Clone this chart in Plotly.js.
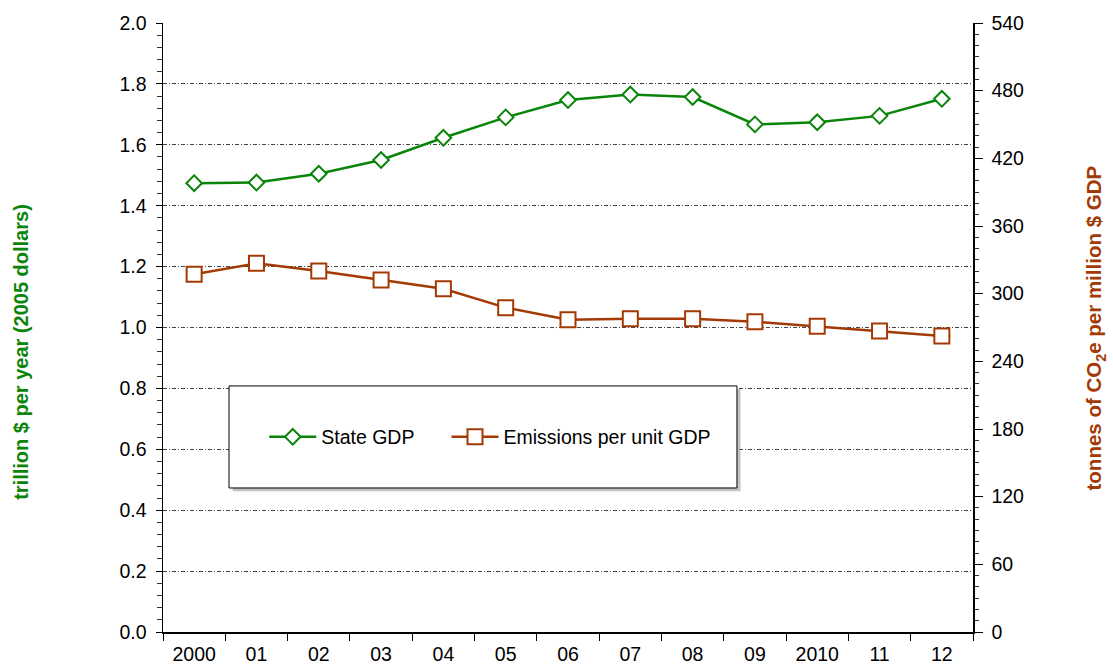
<!DOCTYPE html>
<html>
<head>
<meta charset="utf-8">
<script src="https://cdn.plot.ly/plotly-3.0.1.min.js"></script>
<style>html,body{margin:0;padding:0;background:#fff;}#chart{width:1113px;height:667px;}</style>
</head>
<body>
<div id="chart"></div>
<script>
const years = ['2000','01','02','03','04','05','06','07','08','09','2010','11','12'];
const stateGDP = [1.474, 1.476, 1.505, 1.550, 1.623, 1.690, 1.747, 1.765, 1.757, 1.667, 1.674, 1.695, 1.751];
const emissionsPerGDP = [317.2, 326.9, 320.1, 312.1, 304.4, 287.6, 276.9, 277.8, 277.8, 275.1, 271.1, 266.9, 262.5];
const seriesNames = ['State GDP', 'Emissions per unit GDP'];
const leftTitle = 'trillion $ per year (2005 dollars)';
const rightTitle = 'tonnes of CO<sub>2</sub>e per million $ GDP';

const green = '#0A850A';
const brown = '#A33A06';
const font = 'Liberation Sans, Arial, sans-serif';

const traces = [
  {
    x: years, y: stateGDP, name: seriesNames[0], type: 'scatter', mode: 'lines+markers',
    line: {color: green, width: 2.5},
    marker: {symbol: 'diamond', size: 12, color: '#ffffff', line: {color: green, width: 2}},
    legend: 'legend', cliponaxis: false
  },
  {
    x: years, y: emissionsPerGDP, name: seriesNames[1], type: 'scatter', mode: 'lines+markers',
    yaxis: 'y2',
    line: {color: brown, width: 2.5},
    marker: {symbol: 'square', size: 15, color: '#ffffff', line: {color: brown, width: 2}},
    legend: 'legend2', cliponaxis: false
  }
];

const layout = {
  width: 1113, height: 667,
  margin: {l: 163, r: 140, t: 23, b: 35},
  paper_bgcolor: '#ffffff', plot_bgcolor: '#ffffff',
  font: {family: font, size: 19, color: '#000'},
  showlegend: true,
  xaxis: {
    type: 'category', categoryorder: 'array', categoryarray: years,
    range: [-0.5, 12.5],
    tickson: 'boundaries', ticks: 'outside', ticklen: 7, tickcolor: '#000',
    ticklabelstandoff: 4,
    showline: true, linecolor: '#000', linewidth: 1.5,
    showgrid: false, zeroline: false,
    tickfont: {family: font, size: 19.5, color: '#000'}
  },
  yaxis: {
    range: [0, 2.0], dtick: 0.2, tickformat: '.1f',
    ticks: 'outside', ticklen: 6, tickcolor: '#000',
    ticklabelstandoff: 5,
    minor: {dtick: 0.04, ticks: 'outside', ticklen: 5, tickcolor: '#333', showgrid: false},
    showline: true, linecolor: '#000', linewidth: 1.5,
    showgrid: true, gridcolor: '#444', griddash: '4px,2px,1px,2px', gridwidth: 1,
    zeroline: false,
    tickfont: {family: font, size: 19.5, color: '#000'}
  },
  yaxis2: {
    overlaying: 'y', side: 'right', range: [0, 540], dtick: 60,
    ticks: 'outside', ticklen: 8, tickcolor: '#000',
    ticklabelstandoff: 5,
    minor: {dtick: 10, ticks: 'outside', ticklen: 4, tickcolor: '#333', showgrid: false},
    showline: true, linecolor: '#000', linewidth: 1.5,
    showgrid: false, zeroline: false,
    tickfont: {family: font, size: 19.5, color: '#000'}
  },
  legend: {
    x: 0.125, y: 0.32, xanchor: 'left', yanchor: 'middle', itemwidth: 47,
    bgcolor: 'rgba(0,0,0,0)', borderwidth: 0,
    font: {family: font, size: 19.5, color: '#000'}
  },
  legend2: {
    x: 0.35, y: 0.32, xanchor: 'left', yanchor: 'middle', itemwidth: 47,
    bgcolor: 'rgba(0,0,0,0)', borderwidth: 0,
    font: {family: font, size: 19.5, color: '#000'}
  },
  annotations: [
    {text: leftTitle, xref: 'paper', yref: 'paper', x: -0.1753, y: 0.46,
     xanchor: 'center', yanchor: 'middle', textangle: -90, showarrow: false,
     font: {family: font, size: 20, color: green, weight: 'bold'}},
    {text: rightTitle, xref: 'paper', yref: 'paper', x: 1.1506, y: 0.5,
     xanchor: 'center', yanchor: 'middle', textangle: -90, showarrow: false,
     font: {family: font, size: 20.5, color: brown, weight: 'bold'}}
  ],
  shapes: [
    {type: 'rect', xref: 'paper', yref: 'paper', x0: 0.086, x1: 0.713, y0: 0.231, y1: 0.399,
     fillcolor: '#9a9a9a', line: {width: 0}, layer: 'above', opacity: 0.6},
    {type: 'rect', xref: 'paper', yref: 'paper', x0: 0.0815, x1: 0.7086, y0: 0.2365, y1: 0.404,
     fillcolor: '#ffffff', line: {color: '#000', width: 1}, layer: 'above'}
  ]
};

Plotly.newPlot('chart', traces, layout, {displayModeBar: false, staticPlot: true});
</script>
</body>
</html>
